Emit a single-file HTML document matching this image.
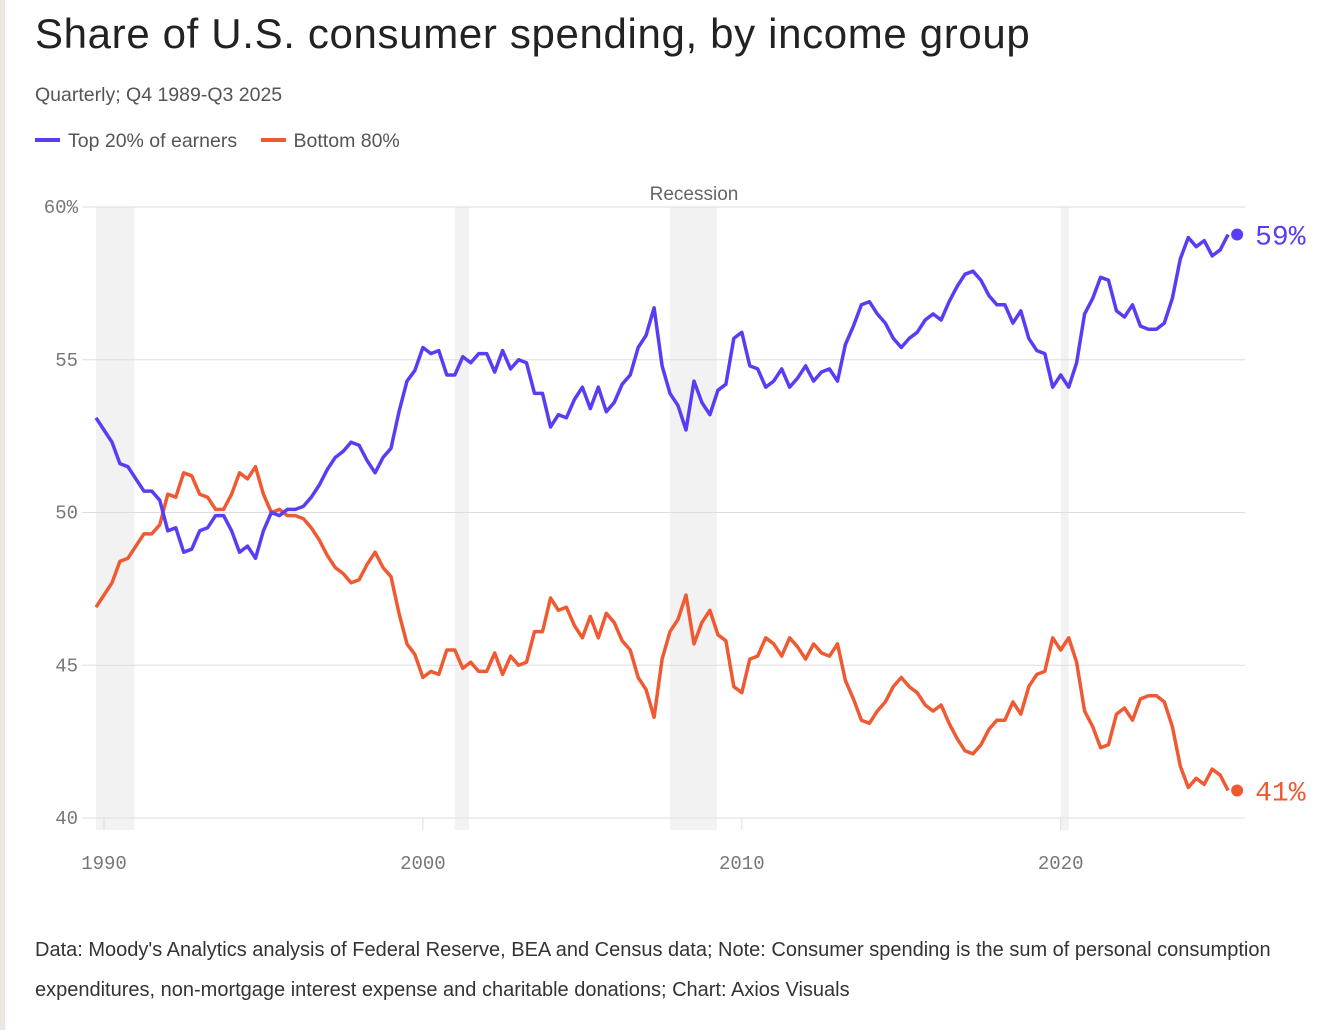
<!DOCTYPE html>
<html><head><meta charset="utf-8">
<style>
body{margin:0;width:1332px;height:1030px;background:#fff;position:relative;overflow:hidden;font-family:"Liberation Sans",sans-serif;}
#strip{position:absolute;left:0;top:0;width:5px;height:1030px;background:#ebe6df;}
#title{position:absolute;left:35px;top:10px;font-size:42px;color:#222;letter-spacing:0.65px;}
#sub{position:absolute;left:35px;top:84px;font-size:19.5px;color:#555;}
#legend{position:absolute;left:35px;top:130px;font-size:19.5px;color:#555;}
.lg{display:inline-block;margin-right:18px;}
.sw{display:inline-block;width:25px;height:4px;vertical-align:middle;margin-right:8px;position:relative;top:-2px;}
#foot{position:absolute;left:35px;top:930px;font-size:20px;color:#333;line-height:40px;width:1290px;}
svg{position:absolute;left:0;top:0;}
</style></head><body>
<div id="strip"></div>
<div id="title">Share of U.S. consumer spending, by income group</div>
<div id="sub">Quarterly; Q4 1989-Q3 2025</div>
<div id="legend">
<span class="lg"><span class="sw" style="background:#5b3cf5"></span>Top 20% of earners</span>
<span class="lg"><span class="sw" style="background:#ef5a32"></span>Bottom 80%</span>
</div>
<svg id="chart" width="1332" height="1030"></svg>
<div id="foot">Data: Moody's Analytics analysis of Federal Reserve, BEA and Census data; Note: Consumer spending is the sum of personal consumption expenditures, non-mortgage interest expense and charitable donations; Chart: Axios Visuals</div>
<script>
const startPeriod = 1989.75;
const yTicks = [40, 45, 50, 55, 60];
const yTickLabels = ["40", "45", "50", "55", "60%"];
const xTicks = [1990, 2000, 2010, 2020];
const recessionStarts = [1989.75, 2001.0, 2007.75, 2020.0];
const recessionEnds = [1990.95, 2001.45, 2009.22, 2020.25];
const top20 = [53.1,52.7,52.3,51.6,51.5,51.1,50.7,50.7,50.4,49.4,49.5,48.7,48.8,49.4,49.5,49.9,49.9,49.4,48.7,48.9,48.5,49.4,50.0,49.9,50.1,50.1,50.2,50.5,50.9,51.4,51.8,52.0,52.3,52.2,51.7,51.3,51.8,52.1,53.3,
54.3,54.65,55.4,55.2,55.3,54.5,54.5,55.1,54.9,55.2,55.2,54.6,55.3,54.7,55.0,54.9,53.9,53.9,52.8,53.2,53.1,53.7,54.1,53.4,54.1,53.3,53.6,54.2,54.5,55.4,55.8,56.7,54.8,53.9,53.5,52.7,54.3,53.6,53.2,54.0,54.2,55.7,
55.9,54.8,54.7,54.1,54.3,54.7,54.1,54.4,54.8,54.3,54.6,54.7,54.3,55.5,56.1,56.8,56.9,56.5,56.2,55.7,55.4,55.7,55.9,56.3,56.5,56.3,56.9,57.4,57.8,57.9,57.6,57.1,56.8,56.8,56.2,56.6,55.7,55.3,
55.2,54.1,54.5,54.1,54.9,56.5,57.0,57.7,57.6,56.6,56.4,56.8,56.1,56.0,56.0,56.2,57.0,58.3,59.0,58.7,58.9,58.4,58.6,59.1];
const bottom80 = [46.9,47.3,47.7,48.4,48.5,48.9,49.3,49.3,49.6,50.6,50.5,51.3,51.2,50.6,50.5,50.1,50.1,50.6,51.3,51.1,51.5,50.6,50.0,50.1,49.9,49.9,49.8,49.5,49.1,48.6,48.2,48.0,47.7,47.8,48.3,48.7,48.2,47.9,46.7,
45.7,45.35,44.6,44.8,44.7,45.5,45.5,44.9,45.1,44.8,44.8,45.4,44.7,45.3,45.0,45.1,46.1,46.1,47.2,46.8,46.9,46.3,45.9,46.6,45.9,46.7,46.4,45.8,45.5,44.6,44.2,43.3,45.2,46.1,46.5,47.3,45.7,46.4,46.8,46.0,45.8,44.3,
44.1,45.2,45.3,45.9,45.7,45.3,45.9,45.6,45.2,45.7,45.4,45.3,45.7,44.5,43.9,43.2,43.1,43.5,43.8,44.3,44.6,44.3,44.1,43.7,43.5,43.7,43.1,42.6,42.2,42.1,42.4,42.9,43.2,43.2,43.8,43.4,44.3,44.7,
44.8,45.9,45.5,45.9,45.1,43.5,43.0,42.3,42.4,43.4,43.6,43.2,43.9,44.0,44.0,43.8,43.0,41.7,41.0,41.3,41.1,41.6,41.4,40.9];

const NS="http://www.w3.org/2000/svg";
const svg=document.getElementById('chart');
const x=t=>104+(t-1990)*31.89;
const y=v=>818-(v-40)*30.55;
function mk(tag,attrs){const e=document.createElementNS(NS,tag);for(const k in attrs)e.setAttribute(k,attrs[k]);svg.appendChild(e);return e;}

recessionStarts.forEach((s,i)=>{
  const r=mk('rect',{x:x(s),y:y(60),width:x(recessionEnds[i])-x(s),height:y(40)-y(60)+12,fill:'#f2f2f2'});
  
  
});
const rl=mk('text',{x:694,y:200,'text-anchor':'middle','font-size':19,fill:'#666','font-family':'Liberation Sans, sans-serif'});
rl.textContent='Recession';



yTicks.forEach((v,i)=>{
  const g=mk('line',{x1:82,x2:1245,y1:y(v),y2:y(v),stroke:'#dddddd','stroke-width':1});
  
  
  const t=mk('text',{x:78,y:y(v)+6,'text-anchor':'end','font-size':19,fill:'#777','font-family':'Liberation Mono, monospace'});
  t.textContent=yTickLabels[i];
  
  
});
xTicks.forEach(yr=>{
  const l=mk('line',{x1:x(yr),x2:x(yr),y1:y(40),y2:y(40)+12,stroke:'#dddddd'});
  
  
  const t=mk('text',{x:x(yr),y:869,'text-anchor':'middle','font-size':19,fill:'#777','font-family':'Liberation Mono, monospace'});
  t.textContent=String(yr);
  
  
});

function drawSeries(vals,color,name,label){
  const pts=vals.map((v,i)=>x(startPeriod+i/4).toFixed(1)+','+y(v).toFixed(1)).join(' ');
  const p=mk('polyline',{points:pts,fill:'none',stroke:color,'stroke-width':3.5,'stroke-linejoin':'round'});
  
  
  const last=vals[vals.length-1];
  const lx=x(startPeriod+(vals.length-1)/4)+9;
  const c=mk('circle',{cx:lx,cy:y(last),r:6,fill:color});
  
  
  const t=mk('text',{x:lx+18,y:y(last)+10,'font-size':28,fill:color,'font-family':'Liberation Mono, monospace'});
  t.textContent=label;
  
  
}
drawSeries(bottom80,'#ef5a32','bottom-80','41%');
drawSeries(top20,'#5b3cf5','top-20','59%');
</script>
</body></html>
